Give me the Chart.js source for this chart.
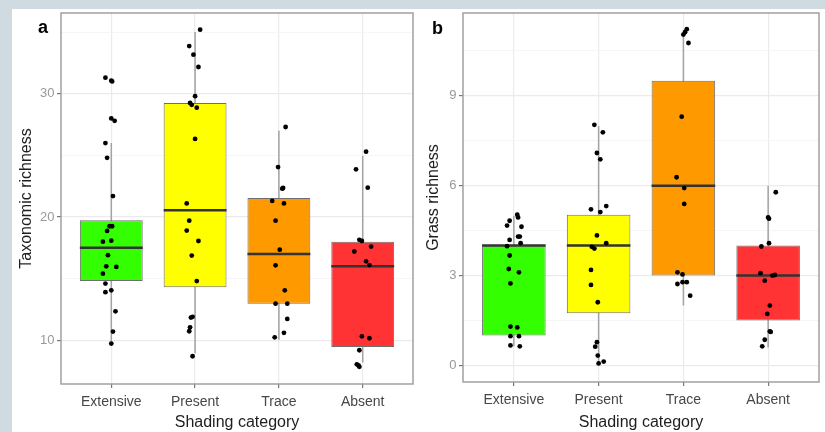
<!DOCTYPE html>
<html><head><meta charset="utf-8">
<script src="https://cdn.jsdelivr.net/npm/chart.js@4.4.1/dist/chart.umd.min.js"></script>
<style>
html,body{margin:0;padding:0;background:#cfdbe1;width:825px;height:432px;overflow:hidden;font-family:"Liberation Sans",Arial,sans-serif}
#card{position:absolute;left:12px;top:9px;width:813px;height:423px;background:#fff}
canvas{position:absolute;top:9px}
#ca{left:12px}
#cb{left:418px}
.lab{position:absolute;font-weight:bold;font-size:18px;line-height:18px;color:#000}
</style></head><body>
<div id="card"></div>
<canvas id="ca" width="406" height="423"></canvas>
<canvas id="cb" width="407" height="423"></canvas>
<div class="lab" style="left:38px;top:18px">a</div>
<div class="lab" style="left:432px;top:19px">b</div>
<script>
// ---- data ----
const categories = ['Extensive', 'Present', 'Trace', 'Absent'];

// Panel a: Taxonomic richness
const taxQ1 = [14.8, 14.3, 12.97, 9.46];
const taxMedian = [17.5, 20.55, 17.0, 16.0];
const taxQ3 = [19.73, 29.25, 21.55, 18.0];
const taxWhiskerLow = [9.73, 8.95, 10.05, 8.2];
const taxWhiskerHigh = [26.0, 35.0, 27.0, 24.97];
const taxValues = [
  [31.3, 31.06, 31.0, 28.0, 27.8, 26.0, 24.8, 21.7, 18.87, 19.25, 19.25, 18.0, 18.08, 16.9, 16.0, 15.95, 15.4, 14.6, 13.9, 14.05, 12.35, 10.7, 9.73],
  [35.2, 33.87, 33.17, 32.17, 29.8, 29.25, 29.1, 28.87, 26.33, 21.1, 19.7, 18.9, 18.05, 16.87, 14.8, 11.84, 11.9, 11.05, 10.73, 8.7],
  [27.3, 24.05, 22.3, 22.35, 21.3, 21.1, 19.7, 17.35, 16.08, 14.05, 12.97, 12.97, 11.73, 10.6, 10.24],
  [25.3, 23.87, 22.38, 18.15, 18.05, 17.2, 17.6, 16.4, 16.1, 10.32, 10.16, 9.19, 8.05, 7.84, 7.95]
];
const taxJitter = [
  [-0.07, 0, 0.01, 0, 0.04, -0.07, -0.05, 0.02, -0.05, -0.02, 0.01, -0.1, 0, -0.04, -0.06, 0.06, -0.1, -0.07, -0.07, 0, 0.05, 0.02, 0],
  [0.06, -0.07, -0.02, 0.04, 0, -0.06, -0.04, 0.02, 0, -0.1, -0.07, -0.1, 0.04, -0.04, 0.02, -0.05, -0.03, -0.06, -0.07, -0.03],
  [0.08, -0.01, 0.04, 0.05, -0.08, 0.06, -0.04, 0.01, -0.04, 0.07, -0.04, 0.1, 0.1, 0.06, -0.05],
  [0.04, -0.08, 0.06, -0.04, -0.01, -0.1, 0.1, 0.04, 0.08, -0.01, 0.08, -0.04, -0.07, -0.04, -0.05]
];
const taxMajorTicks = [10, 20, 30];
const taxMinorTicks = [15, 25, 35];
const taxRange = [6.45, 36.55];

// Panel b: Grass richness
const grassQ1 = [1.0, 1.74, 3.0, 1.5];
const grassMedian = [4.0, 4.0, 6.0, 3.0];
const grassQ3 = [4.0, 5.03, 9.5, 4.0];
const grassWhiskerLow = [0.64, 0.1, 2.0, 0.6];
const grassWhiskerHigh = [5.0, 7.98, 11.18, 6.0];
const grassValues = [
  [5.03, 4.94, 4.83, 4.67, 4.63, 4.3, 4.3, 4.19, 4.08, 3.98, 3.67, 3.22, 3.11, 2.74, 1.3, 1.27, 0.98, 0.98, 0.67, 0.64],
  [8.03, 7.78, 7.09, 6.88, 5.21, 5.32, 5.12, 4.34, 4.08, 3.96, 3.9, 3.19, 2.69, 2.11, 0.78, 0.63, 0.33, 0.13, 0.07],
  [11.22, 11.04, 11.12, 10.76, 8.3, 6.28, 5.92, 5.39, 3.11, 3.04, 2.72, 2.78, 2.78, 2.33],
  [5.78, 4.94, 4.9, 4.08, 3.97, 3.08, 3.0, 3.02, 2.83, 2.0, 1.72, 1.14, 1.12, 0.86, 0.64]
];
const grassJitter = [
  [0.04, 0.05, -0.05, -0.08, 0.09, 0.05, 0.07, -0.05, 0.08, -0.08, -0.05, -0.06, 0.06, -0.04, -0.04, 0.04, -0.04, 0.06, -0.04, 0.07],
  [-0.05, 0.05, -0.02, 0.02, -0.09, 0.09, 0.02, -0.02, 0.09, -0.08, -0.05, -0.09, -0.09, -0.01, -0.02, -0.04, -0.01, 0.06, 0],
  [0.04, 0, 0.02, 0.06, -0.02, -0.08, 0.01, 0.01, -0.07, -0.01, -0.07, -0.01, 0.04, 0.08],
  [0.09, 0, 0.01, 0.01, -0.08, -0.09, 0.05, 0.08, -0.04, 0.02, -0.01, 0.02, 0.03, -0.04, -0.07]
];
const grassMajorTicks = [0, 3, 6, 9];
const grassMinorTicks = [1.5, 4.5, 7.5, 10.5];
const grassRange = [-0.55, 11.76];

// ---- styles ----
const FONT = '"Liberation Sans", Arial, sans-serif';
Chart.defaults.font.family = FONT;
const boxColors = ['#33ff00', '#ffff00', '#ff9900', '#ff3333'];

const framePlugin = {
  id: 'frame',
  afterDraw(chart) {
    const {ctx, chartArea: a} = chart;
    ctx.save();
    ctx.strokeStyle = '#9a9a9a';
    ctx.lineWidth = 1.4;
    ctx.strokeRect(a.left, a.top, a.right - a.left, a.bottom - a.top);
    ctx.restore();
  }
};

function zeroPad(sc) {
  sc.paddingTop = 0; sc.paddingBottom = 0; sc.paddingLeft = 0; sc.paddingRight = 0;
}

function makeChart(id, s) {
  const points = [];
  s.values.forEach((arr, i) => arr.forEach((v, j) => points.push({x: i + 1 + s.jitter[i][j], y: v})));
  const medians = [], whiskers = [];
  categories.forEach((c, i) => {
    medians.push({x: i + 1 - 0.375, y: s.med[i]}, {x: i + 1 + 0.375, y: s.med[i]}, {x: i + 1.5, y: null});
    whiskers.push({x: i + 1, y: s.wlo[i]}, {x: i + 1, y: s.whi[i]}, {x: i + 1.5, y: null});
  });
  const boxes = categories.map((c, i) => ({x: i + 1, y: [s.q1[i], s.q3[i]]}));
  const allTicks = [...s.major, ...s.minor].sort((a, b) => a - b);
  const isMajor = v => s.major.includes(v);

  return new Chart(document.getElementById(id), {
    type: 'bar',
    data: {
      datasets: [
        {type: 'scatter', data: points, order: 0, pointRadius: 2.4, pointBackgroundColor: '#000', pointBorderWidth: 0, showLine: false},
        {type: 'line', data: medians, order: 1, borderColor: '#333', borderWidth: 2.5, pointRadius: 0, spanGaps: false, borderCapStyle: 'butt'},
        {type: 'bar', data: boxes, order: 2, backgroundColor: boxColors, borderColor: '#6e6e6e', borderWidth: 1, borderSkipped: false, grouped: false, barPercentage: 0.75, categoryPercentage: 1},
        {type: 'line', data: whiskers, order: 3, borderColor: '#a3a3a3', borderWidth: 1.5, pointRadius: 0, spanGaps: false}
      ]
    },
    options: {
      responsive: false,
      devicePixelRatio: 1,
      animation: false,
      events: [],
      layout: {padding: {left: 0, top: 4, right: s.padRight, bottom: 0}},
      plugins: {legend: {display: false}, tooltip: {enabled: false}},
      scales: {
        x: {
          type: 'linear', min: 0.4, max: 4.6, offset: false,
          afterBuildTicks: sc => { sc.ticks = categories.map((c, i) => ({value: i + 1})); },
          afterFit: sc => { sc.height = s.xHeight; zeroPad(sc); },
          ticks: {callback: v => categories[Math.round(v) - 1] || '', color: '#474747', font: {size: 14}, padding: 6, autoSkip: false, maxRotation: 0},
          grid: {color: '#ebebeb', lineWidth: 1.2, tickColor: '#777', tickLength: 4, offset: false},
          border: {display: false},
          title: {display: true, text: 'Shading category', font: {size: 16}, color: '#1e1e1e', padding: {top: 0, bottom: 0}}
        },
        y: {
          type: 'linear', min: s.range[0], max: s.range[1],
          afterBuildTicks: sc => { sc.ticks = allTicks.map(v => ({value: v})); },
          afterFit: sc => { sc.width = s.yWidth; zeroPad(sc); },
          ticks: {callback: v => isMajor(v) ? String(v) : '', color: '#999', font: {size: 13}, padding: 2.5, autoSkip: false},
          grid: {
            color: c => (c.tick && isMajor(c.tick.value)) ? '#ebebeb' : '#f4f4f4',
            lineWidth: c => (c.tick && isMajor(c.tick.value)) ? 1.2 : 0.8,
            tickColor: c => (c.tick && isMajor(c.tick.value)) ? '#777' : 'rgba(0,0,0,0)',
            tickLength: 4
          },
          border: {display: false},
          title: {display: true, text: s.title, font: {size: 16}, color: '#1e1e1e', padding: {top: s.titlePad, bottom: 0}}
        }
      }
    },
    plugins: [framePlugin]
  });
}

makeChart('ca', {
  values: taxValues, jitter: taxJitter, q1: taxQ1, med: taxMedian, q3: taxQ3,
  wlo: taxWhiskerLow, whi: taxWhiskerHigh, major: taxMajorTicks, minor: taxMinorTicks,
  range: taxRange, title: 'Taxonomic richness', yWidth: 49, xHeight: 48, padRight: 5, titlePad: 5
});
makeChart('cb', {
  values: grassValues, jitter: grassJitter, q1: grassQ1, med: grassMedian, q3: grassQ3,
  wlo: grassWhiskerLow, whi: grassWhiskerHigh, major: grassMajorTicks, minor: grassMinorTicks,
  range: grassRange, title: 'Grass richness', yWidth: 45, xHeight: 50, padRight: 6, titlePad: 6
});
</script>
</body></html>
